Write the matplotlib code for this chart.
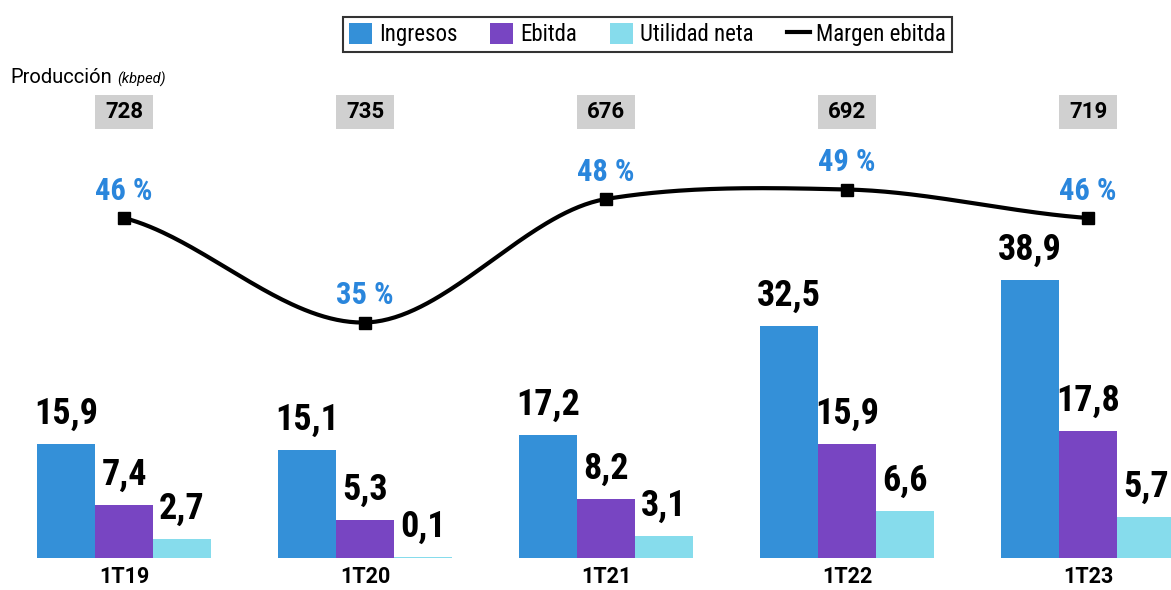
import numpy as np
import matplotlib
matplotlib.use("Agg")
from matplotlib import pyplot as plt
from matplotlib.patches import Patch, Rectangle
from matplotlib.lines import Line2D

periods = ["1T19", "1T20", "1T21", "1T22", "1T23"]
ingresos = [15.9, 15.1, 17.2, 32.5, 38.9]
ebitda = [7.4, 5.3, 8.2, 15.9, 17.8]
utilidad = [2.7, 0.1, 3.1, 6.6, 5.7]
margen = [46, 35, 48, 49, 46]
produccion = [728, 735, 676, 692, 719]

c_ing = "#3490d8"
c_ebi = "#7845c2"
c_uti = "#86dcec"
c_pct = "#2a86dc"

COND = ["Roboto Condensed", "DejaVu Sans"]


def smooth(x, y, tension=0.6, n=300):
    """Cardinal spline through the points, drawing only."""
    x = np.asarray(x, float)
    y = np.asarray(y, float)
    h = np.diff(x)
    m = np.zeros_like(y)
    m[1:-1] = tension * (y[2:] - y[:-2]) / (x[2:] - x[:-2])
    m[0] = tension * (y[1] - y[0]) / h[0]
    m[-1] = tension * (y[-1] - y[-2]) / h[-1]
    xs = np.linspace(x[0], x[-1], n)
    ys = np.empty_like(xs)
    for j, xv in enumerate(xs):
        i = min(np.searchsorted(x, xv, side="right") - 1, len(x) - 2)
        t = (xv - x[i]) / h[i]
        h00 = 2 * t ** 3 - 3 * t ** 2 + 1
        h10 = t ** 3 - 2 * t ** 2 + t
        h01 = -2 * t ** 3 + 3 * t ** 2
        h11 = t ** 3 - t ** 2
        ys[j] = h00 * y[i] + h10 * h[i] * m[i] + h01 * y[i + 1] + h11 * h[i] * m[i + 1]
    return xs, ys


fig = plt.figure(figsize=(11.71, 5.9), dpi=100)
ax = fig.add_axes([0, 0, 1, 1])
ax.set_xlim(-0.515, 4.344)
ax.set_ylim(-32 / 7.15, 558 / 7.15)
ax.axis("off")

x = np.arange(len(periods))
w = 0.24
for off, vals, col in [(-w, ingresos, c_ing), (0, ebitda, c_ebi), (w, utilidad, c_uti)]:
    bars = ax.bar(x + off, vals, width=w, color=col, linewidth=0)
    for bar, v in zip(bars, vals):
        ax.text(bar.get_x() + bar.get_width() / 2, v + 1.7, f"{v:.1f}".replace(".", ","),
                ha="center", va="bottom", fontsize=26, fontweight="bold",
                family=COND, fontstretch="condensed")

for xi, p in zip(x, periods):
    ax.text(xi, -2.6, p, ha="center", va="center", fontsize=15.5, fontweight="bold", family="Roboto")

# production boxes
for xi, p in zip(x, produccion):
    ax.add_patch(Rectangle((xi - w / 2, 60.0), w, 4.8, facecolor="#d0d0d0", edgecolor="none"))
    ax.text(xi, 62.4, str(p), ha="center", va="center", fontsize=16, fontweight="bold",
            family="Roboto")

fig.text(0.009, 0.869, "Producción", fontsize=14.5, family="Roboto", va="center")
fig.text(0.1, 0.866, "(kbped)", fontsize=10.5, family="Roboto", style="italic", va="center")

# margin line on twin axis
ax2 = fig.add_axes([0, 0, 1, 1], sharex=ax)
ax2.patch.set_alpha(0)
ax2.axis("off")
ax2.set_ylim(46 - 372 / 9.5, 46 + 218 / 9.5)
xs, ys = smooth(x, margen)
ax2.plot(xs, ys, color="black", linewidth=3)
ax2.plot(x, margen, "s", color="black", markersize=9)
for xi, m in zip(x, margen):
    ax2.text(xi, m + 1.3, f"{m} %", ha="center", va="bottom", fontsize=22, fontweight="bold",
             color=c_pct, family=COND, fontstretch="condensed")

handles = [
    Patch(facecolor=c_ing, label="Ingresos"),
    Patch(facecolor=c_ebi, label="Ebitda"),
    Patch(facecolor=c_uti, label="Utilidad neta"),
    Line2D([0], [0], color="black", linewidth=3, label="Margen ebitda"),
]
leg = fig.legend(handles=handles, loc="upper center", bbox_to_anchor=(0.553, 0.99), ncol=4,
                 frameon=True, fancybox=False, edgecolor="black",
                 prop={"family": COND, "size": 16.5, "stretch": "condensed"},
                 handlelength=1.0, handleheight=1.0, handletextpad=0.3, columnspacing=1.45,
                 borderpad=0.25)
leg.get_frame().set_linewidth(1.5)

fig.savefig("out.png", dpi=100, facecolor="white")
